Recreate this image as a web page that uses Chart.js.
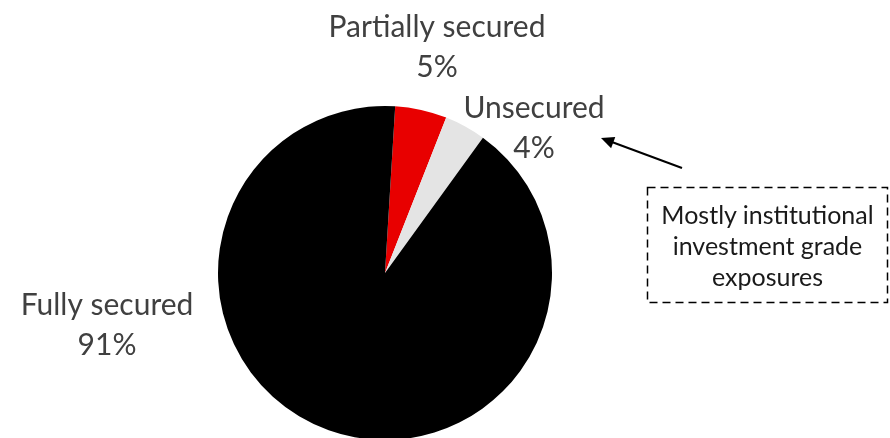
<!DOCTYPE html>
<html>
<head>
<meta charset="UTF-8" />
<script src="https://cdn.jsdelivr.net/npm/chart.js"></script>
<style>
  html, body { margin: 0; padding: 0; background: #fff; overflow: hidden; }
  .wrap { position: relative; width: 890px; height: 460px; }
  .note {
    position: absolute; left: 647px; top: 187px; width: 241px; height: 116px;
    font-family: Lato, sans-serif; font-size: 25px; line-height: 31px; color: #1a1a1a;
    text-align: center; padding-top: 12px; box-sizing: border-box;
  }
</style>
</head>
<body>
<div class="wrap">
  <canvas id="pie" width="890" height="460"></canvas>
  <div class="note">Mostly institutional<br>investment grade<br>exposures</div>
</div>
<script>
const labels = ['Partially secured', 'Unsecured', 'Fully secured'];
const values = [5, 4, 91];
const colors = ['#e80000', '#e4e4e4', '#000000'];

// where each label sits (centre x, first baseline y)
const labelPos = [[437, 37], [534, 118], [107, 315]];

const labelPlugin = {
  id: 'outsideLabels',
  afterDraw(chart) {
    const ctx = chart.ctx;
    ctx.save();
    ctx.font = '30px Lato, sans-serif';
    ctx.fillStyle = '#404040';
    ctx.textAlign = 'center';
    ctx.textBaseline = 'alphabetic';
    labels.forEach((l, i) => {
      const [x, y] = labelPos[i];
      ctx.fillText(l, x, y);
      ctx.fillText(values[i] + '%', x, y + 40);
    });
    // dashed note box
    ctx.strokeStyle = '#000';
    ctx.lineWidth = 1.5;
    ctx.setLineDash([8, 5]);
    ctx.strokeRect(647.5, 187.5, 240, 115);
    ctx.setLineDash([]);
    // arrow pointing to the unsecured label
    const x0 = 682, y0 = 168, x1 = 601, y1 = 138;
    const a = Math.atan2(y1 - y0, x1 - x0);
    ctx.fillStyle = '#000';
    ctx.lineWidth = 2;
    ctx.beginPath();
    ctx.moveTo(x0, y0);
    ctx.lineTo(x1 - 8 * Math.cos(a), y1 - 8 * Math.sin(a));
    ctx.stroke();
    ctx.beginPath();
    ctx.moveTo(x1, y1);
    ctx.lineTo(x1 - 13 * Math.cos(a) + 6 * Math.sin(a), y1 - 13 * Math.sin(a) - 6 * Math.cos(a));
    ctx.lineTo(x1 - 13 * Math.cos(a) - 6 * Math.sin(a), y1 - 13 * Math.sin(a) + 6 * Math.cos(a));
    ctx.closePath();
    ctx.fill();
    ctx.restore();
  }
};

new Chart(document.getElementById('pie'), {
  type: 'pie',
  data: {
    labels: labels,
    datasets: [{
      data: values,
      backgroundColor: colors,
      borderWidth: 0,
    }],
  },
  options: {
    responsive: false,
    animation: false,
    rotation: 3.5,
    layout: { padding: { left: 218, right: 338, top: 106, bottom: 20 } },
    plugins: {
      legend: { display: false },
      tooltip: { enabled: false },
    },
  },
  plugins: [labelPlugin],
});
</script>
</body>
</html>
